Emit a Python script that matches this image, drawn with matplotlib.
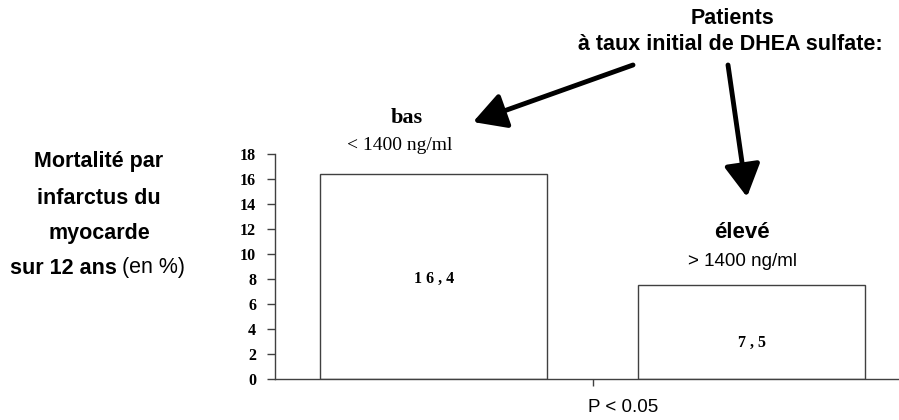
import matplotlib
matplotlib.use("Agg")
import matplotlib.pyplot as plt
from matplotlib.patches import FancyArrowPatch

categories = ["bas", "élevé"]
values = [16.4, 7.5]
value_labels = ["1 6 , 4", "7 , 5"]
thresholds = ["< 1400 ng/ml", "> 1400 ng/ml"]
yticks = [0, 2, 4, 6, 8, 10, 12, 14, 16, 18]

W, H = 899, 420
fig = plt.figure(figsize=(W / 100, H / 100), dpi=100)

def fx(px):
    return px / W

def fy(py):
    return 1 - py / H

# axes: y-axis at x=276, category spacing 318 px, y=0 at 379, y=18 at 154
ax = fig.add_axes([fx(275), fy(379), (910.5 - 275) / W, (379 - 154) / H])
xs = list(range(len(categories)))
ax.bar(xs, values, width=0.714, color="white", edgecolor="#404040", linewidth=1.0, zorder=2)
ax.set_xlim(-0.5, 1.5)
ax.set_ylim(0, 18)
ax.spines["top"].set_visible(False)
ax.spines["right"].set_visible(False)
for s in ("left", "bottom"):
    ax.spines[s].set_color("#404040")
    ax.spines[s].set_linewidth(1.0)
ax.set_yticks(yticks)
ax.set_yticklabels([str(v) for v in yticks], fontfamily="Liberation Serif",
                   fontweight="bold", fontsize=11.5)
ax.tick_params(axis="y", direction="out", length=6, width=1.0, color="#404040", pad=7.5)
ax.set_xticks([0.5])
ax.set_xticklabels([""])
ax.tick_params(axis="x", direction="out", length=5, width=1.0, color="#404040")

# value labels inside bars
ax.text(0, 8.0, value_labels[0], ha="center", va="center",
        fontfamily="Liberation Serif", fontweight="bold", fontsize=11.5)
ax.text(1, 2.9, value_labels[1], ha="center", va="center",
        fontfamily="Liberation Serif", fontweight="bold", fontsize=11.5)

# category annotations
fig.text(fx(407), fy(118), categories[0], ha="center", va="center",
         fontfamily="Liberation Serif", fontweight="bold", fontsize=16)
fig.text(fx(400), fy(145), thresholds[0], ha="center", va="center",
         fontfamily="Liberation Serif", fontsize=14)
fig.text(fx(742), fy(232), categories[1], ha="center", va="center",
         fontfamily="Liberation Sans", fontweight="bold", fontsize=16)
fig.text(fx(742), fy(262), thresholds[1], ha="center", va="center",
         fontfamily="Liberation Sans", fontsize=13.5)

fig.text(fx(623), fy(407), "P < 0.05", ha="center", va="center",
         fontfamily="Liberation Sans", fontsize=13.5)

# title text
fig.text(fx(733), fy(18), "Patients", ha="center", va="center",
         fontfamily="Liberation Sans", fontweight="bold", fontsize=15.5)
fig.text(fx(730), fy(45), "à taux initial de DHEA sulfate:", ha="center", va="center",
         fontfamily="Liberation Sans", fontweight="bold", fontsize=15.5)

# y label (multi-line)
ylabel_lines = ["Mortalité par", "infarctus du", "myocarde"]
ylabel_y = [161, 198, 233]
for t, py in zip(ylabel_lines, ylabel_y):
    fig.text(fx(99), fy(py), t, ha="center", va="center",
             fontfamily="Liberation Sans", fontweight="bold", fontsize=15.5)
t1 = fig.text(fx(10), fy(268), "sur 12 ans", ha="left", va="center",
              fontfamily="Liberation Sans", fontweight="bold", fontsize=15.5)
fig.canvas.draw()
bb = t1.get_window_extent()
fig.text(bb.x1 / W + fx(5), fy(268), "(en %)", ha="left", va="center",
         fontfamily="Liberation Sans", fontsize=15.5)

# arrows
for (x0, y0), (x1, y1) in [((633, 65), (473, 122)), ((728, 65), (747, 197))]:
    arr = FancyArrowPatch((fx(x0), fy(y0)), (fx(x1), fy(y1)), transform=fig.transFigure,
                          arrowstyle="-|>,head_length=9,head_width=5",
                          mutation_scale=2.2, linewidth=3.5, color="black",
                          shrinkA=0, shrinkB=0)
    fig.patches.append(arr)

fig.savefig("out.png", dpi=100)
